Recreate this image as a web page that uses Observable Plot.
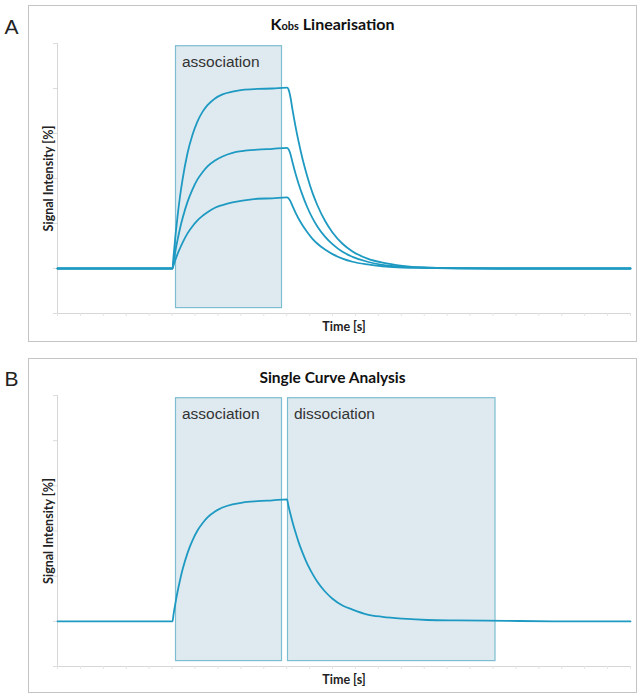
<!DOCTYPE html>
<html><head><meta charset="utf-8">
<script src="https://cdn.jsdelivr.net/npm/d3@7"></script>
<script src="https://cdn.jsdelivr.net/npm/@observablehq/plot@0.6"></script>
<style>
body{margin:0;background:#fff;}
#root{position:relative;width:641px;height:696px;overflow:hidden;}
.panel{position:absolute;left:28px;width:609px;box-sizing:border-box;border:1px solid #c4c4c4;background:#fff;}
.panel svg{position:absolute;left:0;top:0;overflow:visible;}
</style></head>
<body><div id="root"><div class="panel" id="pA" style="top:5px;height:337px"></div><div class="panel" id="pB" style="top:358px;height:335px"></div></div>
<script>
// time axis (s)
const time = [0, 100, 200, 230, 232, 236, 240, 245, 250, 260, 270, 280, 290, 300, 315, 330, 350, 370, 400, 430, 459,
  462, 466, 470, 476, 482, 490, 500, 510, 520, 535, 550, 570, 590, 620, 650, 690, 740, 800, 900, 1000, 1146];
// Panel A: three concentrations
const highA = [1.00, 1.00, 1.00, 1.00, 1.26, 1.74, 2.15, 2.60, 2.97, 3.56, 3.97, 4.27, 4.48, 4.63, 4.78, 4.87, 4.93, 4.97, 4.99, 5.00, 5.02,
  4.98, 4.80, 4.53, 4.16, 3.83, 3.44, 3.03, 2.68, 2.40, 2.06, 1.80, 1.55, 1.38, 1.22, 1.13, 1.06, 1.02, 1.01, 1.00, 1.00, 1.00];
const midA = [1.00, 1.00, 1.00, 1.00, 1.14, 1.40, 1.63, 1.89, 2.11, 2.48, 2.76, 2.98, 3.14, 3.27, 3.40, 3.49, 3.57, 3.61, 3.64, 3.66, 3.68,
  3.65, 3.54, 3.36, 3.11, 2.89, 2.63, 2.35, 2.12, 1.93, 1.71, 1.54, 1.37, 1.26, 1.15, 1.08, 1.04, 1.02, 1.01, 1.00, 1.00, 1.00];
const lowA = [1.00, 1.00, 1.00, 1.00, 1.07, 1.20, 1.32, 1.45, 1.57, 1.78, 1.94, 2.07, 2.17, 2.25, 2.35, 2.41, 2.47, 2.51, 2.55, 2.56, 2.58,
  2.56, 2.49, 2.39, 2.24, 2.11, 1.96, 1.80, 1.66, 1.55, 1.42, 1.32, 1.22, 1.15, 1.09, 1.05, 1.02, 1.01, 1.00, 1.00, 1.00, 1.00];
// Panel B: single curve
const singleB = [1.00, 1.00, 1.00, 1.00, 1.15, 1.41, 1.65, 1.91, 2.14, 2.51, 2.79, 3.01, 3.17, 3.30, 3.43, 3.52, 3.59, 3.63, 3.66, 3.68, 3.70,
  3.55, 3.37, 3.20, 2.97, 2.76, 2.52, 2.26, 2.05, 1.87, 1.66, 1.50, 1.35, 1.26, 1.15, 1.10, 1.06, 1.03, 1.02, 1.01, 1.00, 1.00];
// shaded phases
const phaseLabelsA = ["association"];
const phaseStartA = [237];
const phaseEndA = [449];
const phaseLabelsB = ["association", "dissociation"];
const phaseStartB = [237, 461];
const phaseEndB = [449, 876];
const phaseBottom = 0.12, phaseTop = 5.94;
const yTicks = [0, 1, 2, 3, 4, 5, 6];
const xTicks = d3.range(0, 1147, 1146 / 25);
const xDomain = [0, 1146], yDomain = [0, 6];

const lineColor = "#1e9ac2";

function panel(el, {height, marginTop, marginBottom, series, regions, title, letter}) {
  const rows = [];
  series.forEach(s => time.forEach((t, i) => rows.push({t, v: s.values[i], s: s.name})));
  const svg = Plot.plot({
    width: 607, height, marginLeft: 28, marginRight: 6, marginTop, marginBottom,
    x: {domain: xDomain, label: null},
    y: {domain: yDomain, label: null},
    style: {fontFamily: "Lato, sans-serif", background: "transparent", overflow: "visible"},
    marks: [
      Plot.rect(regions, {x1: "x1", x2: "x2", y1: "y1", y2: "y2", fill: "#dfeaf0", stroke: "#7dbdd1", strokeWidth: 1.2}),
      Plot.ruleX([0], {stroke: "#d6d6d6"}),
      Plot.ruleY([0], {stroke: "#d6d6d6"}),
      Plot.axisY(yTicks, {tickSize: 4, tickFormat: () => "", stroke: "#dcdcdc", label: null}),
      Plot.axisX(xTicks, {tickSize: 3, tickFormat: () => "", stroke: "#e4e4e4", label: null}),
      Plot.line(rows, {x: "t", y: "v", z: "s", stroke: lineColor, strokeWidth: 1.8, curve: "monotone-x"}),
      Plot.text(regions, {x: "x1", y: "y2", text: "label", textAnchor: "start", lineAnchor: "top", dx: 6, dy: 10,
        fontSize: 15.5, fontFamily: "Liberation Sans, Arial, sans-serif", fill: "#333"}),
      Plot.text(["Signal Intensity [%]"], {frameAnchor: "left", rotate: -90, dx: -9, textAnchor: "middle", lineAnchor: "middle",
        fontWeight: "bold", fontSize: 12.5, fill: "#222"}),
      Plot.text(["Time [s]"], {frameAnchor: "bottom", dy: 13, textAnchor: "middle", lineAnchor: "middle",
        fontWeight: "bold", fontSize: 12.5, fill: "#222"}),
      Plot.text([letter], {frameAnchor: "top-left", dx: -53, dy: -16.5, textAnchor: "start", lineAnchor: "middle", fontSize: 21,
        fontFamily: "Liberation Sans, Arial, sans-serif", fill: "#222"})
    ]
  });
  const t = d3.select(svg).append("text")
    .attr("x", 303.5).attr("y", 24).attr("text-anchor", "middle")
    .attr("fill", "#111").style("font", "bold 15.5px Lato, sans-serif");
  title.forEach(p => t.append("tspan").style("font-size", p.size).text(p.text));
  el.appendChild(svg);
}

panel(document.getElementById("pA"), {
  height: 335, marginTop: 37, marginBottom: 28,
  series: [{name: "high", values: highA}, {name: "mid", values: midA}, {name: "low", values: lowA}],
  regions: phaseLabelsA.map((label, i) => ({label, x1: phaseStartA[i], x2: phaseEndA[i], y1: phaseBottom, y2: phaseTop})),
  title: [{text: "K", size: "16px"}, {text: "obs", size: "11px"}, {text: " Linearisation", size: "16px"}],
  letter: "A"
});
panel(document.getElementById("pB"), {
  height: 333, marginTop: 36, marginBottom: 26,
  series: [{name: "single", values: singleB}],
  regions: phaseLabelsB.map((label, i) => ({label, x1: phaseStartB[i], x2: phaseEndB[i], y1: phaseBottom, y2: phaseTop})),
  title: [{text: "Single Curve Analysis", size: "15.5px"}],
  letter: "B"
});
</script>
</body></html>
